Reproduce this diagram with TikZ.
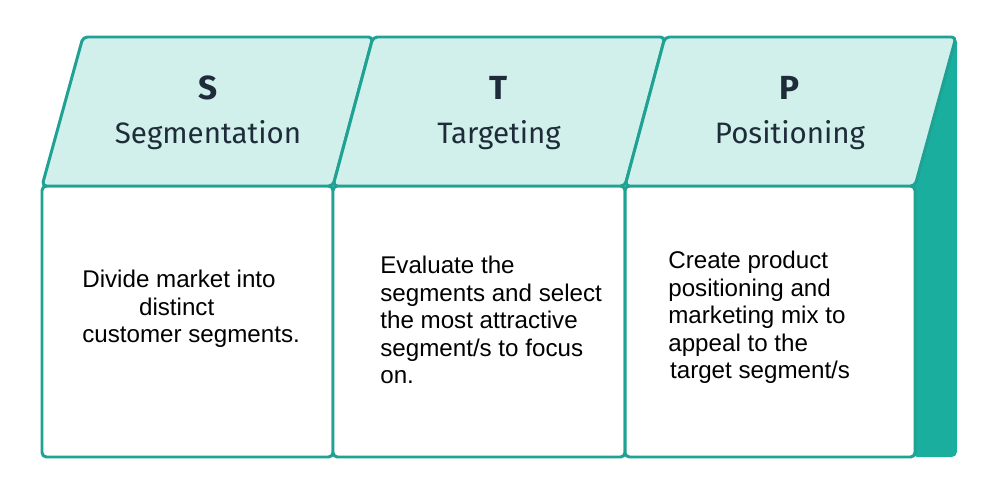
\documentclass[tikz,border=0pt]{standalone}
\usepackage{fontspec}
\setmainfont{Liberation Sans}
\newfontfamily\headfont{Fira Sans}
\definecolor{tealline}{HTML}{1FA293}
\definecolor{tealfill}{HTML}{D1EFEB}
\definecolor{tealdark}{HTML}{1AAE9F}
\definecolor{headtext}{HTML}{1E2C39}
\begin{document}
\begin{tikzpicture}[x=0.02cm,y=-0.02cm,
  frame/.style={draw=tealline,line width=1.7pt,rounded corners=2.5pt,line join=round},
  headbox/.style={frame,fill=tealfill},
  bodybox/.style={frame,fill=white},
  letter/.style={font=\headfont\bfseries\fontsize{19}{22}\selectfont,text=headtext,anchor=base,inner sep=0},
  title/.style={font=\headfont\fontsize{16.8}{20}\selectfont,text=headtext,anchor=base,inner sep=0},
  body/.style={font=\fontsize{13.75}{15.6}\selectfont,align=left,anchor=north west,inner sep=0,text=black}]
\useasboundingbox (0,0) rectangle (1000,500);
% dark side strip
\fill[tealdark,rounded corners=3pt] (912,37) rectangle (957,457);
% bottom boxes
\draw[bodybox] (42,186) rectangle (333,457);
\draw[bodybox] (333,186) rectangle (625,457);
\draw[bodybox] (625,186) rectangle (915,457);
% header parallelograms
\draw[headbox] (83,37) -- (373,37) -- (333,186) -- (42,186) -- cycle;
\draw[headbox] (373,37) -- (665,37) -- (625,186) -- (333,186) -- cycle;
\draw[headbox] (665,37) -- (956,37) -- (915,186) -- (625,186) -- cycle;
% headings
\node[letter] (sL) at (208,100) {S};
\node[title] (sT) at (208,143) {Segmentation};
\node[letter] (tL) at (499,100) {T};
\node[title] (tT) at (499,143) {Targeting};
\node[letter] (pL) at (790,100) {P};
\node[title] (pT) at (790,143) {Positioning};
% body texts
\node[body] (sB) at (82,270) {Divide market into\\\hspace*{32.3pt}distinct\\customer segments.};
\node[body] (tB) at (380,256) {Evaluate the\\segments and select\\the most attractive\\segment/s to focus\\on.};
\node[body] (pB) at (668,251) {Create product\\positioning and\\marketing mix to\\appeal to the\\\hspace*{1pt}target segment/s};
\end{tikzpicture}
\end{document}
